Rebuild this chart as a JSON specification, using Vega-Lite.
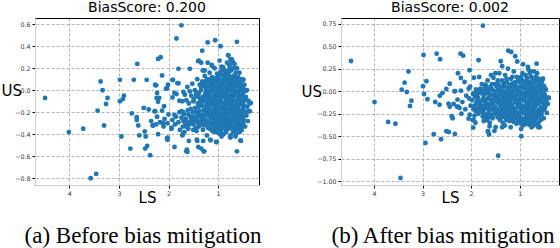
{
"$schema":"https://vega.github.io/schema/vega-lite/v6.json",
"padding":{"left":0,"top":0,"right":0,"bottom":0},
"background":"white",
"datasets":{
"a":[
{"LS":4.49,"US":-0.07},{"LS":3.37,"US":0.08},{"LS":3.33,"US":0.0},{"LS":3.23,"US":-0.07},{"LS":3.26,"US":-0.125},{"LS":3.43,"US":-0.185},{"LS":3.3,"US":-0.32},{"LS":3.72,"US":-0.35},{"LS":4.01,"US":-0.38},{"LS":3.46,"US":-0.76},{"LS":3.57,"US":-0.8},
{"LS":2.98,"US":0.095},{"LS":2.7,"US":0.095},{"LS":2.44,"US":0.095},{"LS":2.63,"US":0.24},{"LS":2.27,"US":0.05},{"LS":2.9,"US":-0.05},{"LS":2.92,"US":-0.08},{"LS":2.98,"US":-0.1},{"LS":2.5,"US":-0.16},{"LS":2.4,"US":-0.175},{"LS":2.28,"US":-0.19},{"LS":2.74,"US":-0.21},{"LS":2.64,"US":-0.245},{"LS":2.64,"US":-0.27},{"LS":2.61,"US":-0.32},{"LS":2.35,"US":-0.28},{"LS":2.32,"US":-0.32},{"LS":2.48,"US":-0.375},{"LS":2.59,"US":-0.41},{"LS":2.46,"US":-0.42},{"LS":2.95,"US":-0.42},{"LS":2.77,"US":-0.53},{"LS":2.43,"US":-0.505},{"LS":2.47,"US":-0.53},{"LS":2.37,"US":-0.59},
{"LS":2.21,"US":0.285},{"LS":2.16,"US":0.3},{"LS":1.84,"US":0.47},{"LS":1.74,"US":0.59},{"LS":2.13,"US":0.135},{"LS":2.26,"US":0.045},{"LS":2.03,"US":0.02},{"LS":1.92,"US":0.095},{"LS":1.82,"US":0.065},{"LS":1.8,"US":0.195},{"LS":1.57,"US":0.195},{"LS":1.7,"US":-0.015},{"LS":1.88,"US":-0.025},{"LS":2.23,"US":-0.025},{"LS":2.24,"US":-0.07},{"LS":2.21,"US":-0.105},{"LS":1.92,"US":-0.065},{"LS":1.78,"US":-0.095},{"LS":2.09,"US":-0.145},{"LS":2.27,"US":-0.19},{"LS":2.13,"US":-0.185},{"LS":1.88,"US":-0.225},{"LS":1.74,"US":-0.19},
{"LS":1.32,"US":0.36},{"LS":1.21,"US":0.435},{"LS":1.06,"US":0.455},{"LS":0.95,"US":0.4},{"LS":0.62,"US":0.44},{"LS":1.4,"US":0.265},{"LS":1.31,"US":0.18},{"LS":1.13,"US":0.23},{"LS":0.79,"US":0.315},{"LS":0.7,"US":0.255},{"LS":0.93,"US":0.215},
{"LS":0.62,"US":-0.555},{"LS":1.29,"US":-0.555},{"LS":1.4,"US":-0.515},{"LS":1.64,"US":-0.555},{"LS":1.88,"US":-0.515},{"LS":0.55,"US":-0.455},{"LS":0.76,"US":-0.425},{"LS":0.93,"US":-0.42},{"LS":1.04,"US":-0.47},{"LS":1.16,"US":-0.45},{"LS":1.43,"US":-0.45},{"LS":1.72,"US":-0.41},{"LS":2.03,"US":-0.44},{"LS":2.21,"US":-0.4},{"LS":2.11,"US":-0.3},{"LS":2.31,"US":-0.32},{"LS":1.94,"US":-0.35},{"LS":0.36,"US":-0.19},{"LS":0.34,"US":-0.115},{"LS":0.43,"US":0.0},{"LS":0.54,"US":0.04},
{"LS":1.39,"US":0.27},{"LS":1.34,"US":0.25},{"LS":1.21,"US":0.25},{"LS":1.27,"US":0.18},{"LS":1.12,"US":0.22},{"LS":0.8,"US":0.32},{"LS":0.75,"US":0.28},{"LS":0.73,"US":0.25},{"LS":0.9,"US":0.21},{"LS":1.91,"US":0.094},{"LS":1.8,"US":0.064},{"LS":2.25,"US":0.045},{"LS":2.01,"US":0.05},{"LS":2.05,"US":0.015},{"LS":2.19,"US":-0.07},{"LS":1.84,"US":-0.034},{"LS":0.49,"US":0.096},{"LS":0.39,"US":-0.095},
{"LS":1.63,"US":-0.54},{"LS":1.62,"US":-0.56},{"LS":1.42,"US":-0.46},{"LS":1.3,"US":-0.46},{"LS":1.34,"US":-0.53},{"LS":1.28,"US":-0.555},{"LS":1.15,"US":-0.455},{"LS":1.03,"US":-0.47},{"LS":0.95,"US":-0.4},{"LS":0.75,"US":-0.43},{"LS":0.54,"US":-0.46},{"LS":1.59,"US":-0.46},{"LS":2.02,"US":-0.43},{"LS":2.02,"US":-0.45},{"LS":1.71,"US":-0.4},{"LS":0.53,"US":-0.33},
{"LS":0.37,"US":-0.12},{"LS":0.39,"US":-0.19},
{"LS":0.42,"US":0.0},{"LS":0.44,"US":-0.06},{"LS":0.41,"US":-0.15},{"LS":0.43,"US":-0.23},{"LS":0.4,"US":-0.28},
{"LS":0.47,"US":0.05},{"LS":0.49,"US":-0.02},{"LS":0.46,"US":-0.09},{"LS":0.48,"US":-0.14},{"LS":0.45,"US":-0.2},{"LS":0.485,"US":-0.27},{"LS":0.455,"US":-0.33},
{"LS":0.52,"US":0.1},{"LS":0.54,"US":0.04},{"LS":0.51,"US":-0.04},{"LS":0.53,"US":-0.1},{"LS":0.5,"US":-0.17},{"LS":0.535,"US":-0.22},{"LS":0.505,"US":-0.29},{"LS":0.525,"US":-0.36},
{"LS":0.57,"US":0.16},{"LS":0.59,"US":0.08},{"LS":0.56,"US":0.01},{"LS":0.58,"US":-0.05},{"LS":0.55,"US":-0.12},{"LS":0.585,"US":-0.18},{"LS":0.555,"US":-0.25},{"LS":0.575,"US":-0.31},{"LS":0.565,"US":-0.38},
{"LS":0.62,"US":0.2},{"LS":0.64,"US":0.12},{"LS":0.61,"US":0.06},{"LS":0.63,"US":-0.01},{"LS":0.6,"US":-0.07},{"LS":0.635,"US":-0.13},{"LS":0.605,"US":-0.2},{"LS":0.625,"US":-0.26},{"LS":0.615,"US":-0.33},{"LS":0.64,"US":-0.4},
{"LS":0.67,"US":0.24},{"LS":0.69,"US":0.13},{"LS":0.66,"US":0.07},{"LS":0.68,"US":0.02},{"LS":0.65,"US":-0.04},{"LS":0.685,"US":-0.1},{"LS":0.655,"US":-0.16},{"LS":0.675,"US":-0.22},{"LS":0.665,"US":-0.28},{"LS":0.69,"US":-0.34},{"LS":0.65,"US":-0.42},
{"LS":0.72,"US":0.28},{"LS":0.74,"US":0.18},{"LS":0.71,"US":0.1},{"LS":0.73,"US":0.03},{"LS":0.7,"US":-0.03},{"LS":0.735,"US":-0.09},{"LS":0.705,"US":-0.15},{"LS":0.725,"US":-0.21},{"LS":0.715,"US":-0.27},{"LS":0.74,"US":-0.32},{"LS":0.7,"US":-0.38},
{"LS":0.77,"US":0.22},{"LS":0.79,"US":0.15},{"LS":0.76,"US":0.08},{"LS":0.78,"US":0.01},{"LS":0.75,"US":-0.05},{"LS":0.785,"US":-0.11},{"LS":0.755,"US":-0.17},{"LS":0.775,"US":-0.23},{"LS":0.765,"US":-0.29},{"LS":0.79,"US":-0.35},{"LS":0.75,"US":-0.41},
{"LS":0.82,"US":0.25},{"LS":0.84,"US":0.12},{"LS":0.81,"US":0.05},{"LS":0.83,"US":-0.02},{"LS":0.8,"US":-0.08},{"LS":0.835,"US":-0.14},{"LS":0.805,"US":-0.2},{"LS":0.825,"US":-0.26},{"LS":0.815,"US":-0.32},{"LS":0.84,"US":-0.38},
{"LS":0.87,"US":0.18},{"LS":0.89,"US":0.1},{"LS":0.86,"US":0.03},{"LS":0.88,"US":-0.03},{"LS":0.85,"US":-0.1},{"LS":0.885,"US":-0.16},{"LS":0.855,"US":-0.22},{"LS":0.875,"US":-0.28},{"LS":0.865,"US":-0.34},{"LS":0.89,"US":-0.4},
{"LS":0.92,"US":0.2},{"LS":0.94,"US":0.14},{"LS":0.91,"US":0.06},{"LS":0.93,"US":0.0},{"LS":0.9,"US":-0.06},{"LS":0.935,"US":-0.12},{"LS":0.905,"US":-0.18},{"LS":0.925,"US":-0.24},{"LS":0.915,"US":-0.3},{"LS":0.94,"US":-0.36},
{"LS":0.97,"US":0.27},{"LS":0.99,"US":0.1},{"LS":0.96,"US":0.04},{"LS":0.98,"US":-0.03},{"LS":0.95,"US":-0.09},{"LS":0.985,"US":-0.15},{"LS":0.955,"US":-0.21},{"LS":0.975,"US":-0.27},{"LS":0.965,"US":-0.33},{"LS":0.99,"US":-0.39},
{"LS":1.02,"US":0.15},{"LS":1.04,"US":0.08},{"LS":1.01,"US":0.01},{"LS":1.03,"US":-0.05},{"LS":1.0,"US":-0.11},{"LS":1.035,"US":-0.17},{"LS":1.005,"US":-0.23},{"LS":1.025,"US":-0.29},{"LS":1.015,"US":-0.35},
{"LS":1.07,"US":0.2},{"LS":1.09,"US":0.05},{"LS":1.06,"US":-0.02},{"LS":1.08,"US":-0.08},{"LS":1.05,"US":-0.14},{"LS":1.085,"US":-0.2},{"LS":1.055,"US":-0.26},{"LS":1.075,"US":-0.32},{"LS":1.065,"US":-0.38},
{"LS":1.12,"US":0.12},{"LS":1.14,"US":0.06},{"LS":1.11,"US":-0.01},{"LS":1.13,"US":-0.07},{"LS":1.1,"US":-0.13},{"LS":1.135,"US":-0.19},{"LS":1.105,"US":-0.25},{"LS":1.125,"US":-0.31},{"LS":1.115,"US":-0.37},
{"LS":1.17,"US":0.16},{"LS":1.19,"US":0.09},{"LS":1.16,"US":0.03},{"LS":1.18,"US":-0.04},{"LS":1.15,"US":-0.1},{"LS":1.185,"US":-0.16},{"LS":1.155,"US":-0.22},{"LS":1.175,"US":-0.28},{"LS":1.165,"US":-0.35},
{"LS":1.22,"US":0.1},{"LS":1.24,"US":0.0},{"LS":1.21,"US":-0.07},{"LS":1.23,"US":-0.13},{"LS":1.2,"US":-0.2},{"LS":1.235,"US":-0.27},{"LS":1.205,"US":-0.34},{"LS":1.225,"US":-0.41},
{"LS":1.27,"US":0.13},{"LS":1.29,"US":0.06},{"LS":1.26,"US":-0.03},{"LS":1.28,"US":-0.1},{"LS":1.25,"US":-0.18},{"LS":1.285,"US":-0.25},{"LS":1.255,"US":-0.31},
{"LS":1.32,"US":0.08},{"LS":1.34,"US":0.02},{"LS":1.31,"US":-0.06},{"LS":1.33,"US":-0.14},{"LS":1.3,"US":-0.22},{"LS":1.335,"US":-0.29},{"LS":1.305,"US":-0.36},
{"LS":1.37,"US":0.05},{"LS":1.39,"US":-0.03},{"LS":1.36,"US":-0.09},{"LS":1.38,"US":-0.19},{"LS":1.35,"US":-0.26},{"LS":1.385,"US":-0.33},
{"LS":1.42,"US":0.1},{"LS":1.44,"US":-0.02},{"LS":1.41,"US":-0.12},{"LS":1.43,"US":-0.24},{"LS":1.4,"US":-0.3},{"LS":1.435,"US":-0.37},
{"LS":1.47,"US":0.0},{"LS":1.49,"US":-0.08},{"LS":1.46,"US":-0.16},{"LS":1.48,"US":-0.28},{"LS":1.45,"US":-0.34},
{"LS":1.52,"US":0.06},{"LS":1.54,"US":-0.05},{"LS":1.51,"US":-0.2},{"LS":1.53,"US":-0.27},{"LS":1.5,"US":-0.36},
{"LS":1.57,"US":-0.01},{"LS":1.59,"US":-0.12},{"LS":1.56,"US":-0.24},{"LS":1.58,"US":-0.31},
{"LS":1.62,"US":0.03},{"LS":1.64,"US":-0.09},{"LS":1.61,"US":-0.18},{"LS":1.63,"US":-0.29},{"LS":1.6,"US":-0.35},
{"LS":1.67,"US":-0.04},{"LS":1.69,"US":-0.22},{"LS":1.66,"US":-0.3},{"LS":1.68,"US":-0.38},
{"LS":1.72,"US":-0.1},{"LS":1.74,"US":-0.25},{"LS":1.71,"US":-0.33},
{"LS":1.78,"US":-0.2},{"LS":1.8,"US":-0.29},{"LS":1.77,"US":-0.36},
{"LS":1.85,"US":-0.24},{"LS":1.87,"US":-0.31},{"LS":1.92,"US":-0.27},{"LS":1.94,"US":-0.34},{"LS":2.0,"US":-0.22},{"LS":2.02,"US":-0.3},{"LS":2.08,"US":-0.26},{"LS":2.1,"US":-0.33},{"LS":2.17,"US":-0.29},{"LS":2.25,"US":-0.31},{"LS":2.23,"US":-0.24},
{"LS":0.495,"US":0.02},{"LS":0.495,"US":-0.06},{"LS":0.495,"US":-0.12},{"LS":0.495,"US":-0.17},{"LS":0.495,"US":-0.24},{"LS":0.495,"US":-0.3},
{"LS":0.545,"US":0.07},{"LS":0.545,"US":0.0},{"LS":0.545,"US":-0.07},{"LS":0.545,"US":-0.13},{"LS":0.545,"US":-0.2},{"LS":0.545,"US":-0.26},{"LS":0.545,"US":-0.32},
{"LS":0.595,"US":0.12},{"LS":0.595,"US":0.04},{"LS":0.595,"US":-0.02},{"LS":0.595,"US":-0.09},{"LS":0.595,"US":-0.15},{"LS":0.595,"US":-0.22},{"LS":0.595,"US":-0.28},{"LS":0.595,"US":-0.35},
{"LS":0.645,"US":0.16},{"LS":0.645,"US":0.09},{"LS":0.645,"US":0.03},{"LS":0.645,"US":-0.04},{"LS":0.645,"US":-0.1},{"LS":0.645,"US":-0.17},{"LS":0.645,"US":-0.23},{"LS":0.645,"US":-0.3},{"LS":0.645,"US":-0.36},
{"LS":0.695,"US":0.2},{"LS":0.695,"US":0.06},{"LS":0.695,"US":0.0},{"LS":0.695,"US":-0.06},{"LS":0.695,"US":-0.12},{"LS":0.695,"US":-0.19},{"LS":0.695,"US":-0.25},{"LS":0.695,"US":-0.3},{"LS":0.695,"US":-0.36},
{"LS":0.745,"US":0.12},{"LS":0.745,"US":0.05},{"LS":0.745,"US":-0.01},{"LS":0.745,"US":-0.08},{"LS":0.745,"US":-0.14},{"LS":0.745,"US":-0.2},{"LS":0.745,"US":-0.26},{"LS":0.745,"US":-0.32},
{"LS":0.795,"US":0.18},{"LS":0.795,"US":0.1},{"LS":0.795,"US":0.03},{"LS":0.795,"US":-0.05},{"LS":0.795,"US":-0.11},{"LS":0.795,"US":-0.17},{"LS":0.795,"US":-0.23},{"LS":0.795,"US":-0.29},{"LS":0.795,"US":-0.35},
{"LS":0.845,"US":0.15},{"LS":0.845,"US":0.08},{"LS":0.845,"US":0.0},{"LS":0.845,"US":-0.06},{"LS":0.845,"US":-0.12},{"LS":0.845,"US":-0.18},{"LS":0.845,"US":-0.24},{"LS":0.845,"US":-0.3},{"LS":0.845,"US":-0.36},
{"LS":0.895,"US":0.14},{"LS":0.895,"US":0.07},{"LS":0.895,"US":0.01},{"LS":0.895,"US":-0.05},{"LS":0.895,"US":-0.12},{"LS":0.895,"US":-0.19},{"LS":0.895,"US":-0.25},{"LS":0.895,"US":-0.31},
{"LS":0.945,"US":0.17},{"LS":0.945,"US":0.09},{"LS":0.945,"US":0.02},{"LS":0.945,"US":-0.04},{"LS":0.945,"US":-0.1},{"LS":0.945,"US":-0.16},{"LS":0.945,"US":-0.22},{"LS":0.945,"US":-0.28},{"LS":0.945,"US":-0.34},
{"LS":0.995,"US":0.12},{"LS":0.995,"US":0.06},{"LS":0.995,"US":-0.01},{"LS":0.995,"US":-0.07},{"LS":0.995,"US":-0.13},{"LS":0.995,"US":-0.19},{"LS":0.995,"US":-0.25},{"LS":0.995,"US":-0.31},
{"LS":1.045,"US":0.11},{"LS":1.045,"US":0.03},{"LS":1.045,"US":-0.04},{"LS":1.045,"US":-0.1},{"LS":1.045,"US":-0.16},{"LS":1.045,"US":-0.22},{"LS":1.045,"US":-0.28},{"LS":1.045,"US":-0.34},
{"LS":1.095,"US":0.08},{"LS":1.095,"US":0.02},{"LS":1.095,"US":-0.05},{"LS":1.095,"US":-0.11},{"LS":1.095,"US":-0.17},{"LS":1.095,"US":-0.23},{"LS":1.095,"US":-0.29},{"LS":1.095,"US":-0.35},
{"LS":1.145,"US":0.1},{"LS":1.145,"US":0.0},{"LS":1.145,"US":-0.07},{"LS":1.145,"US":-0.13},{"LS":1.145,"US":-0.19},{"LS":1.145,"US":-0.25},{"LS":1.145,"US":-0.31},
{"LS":1.195,"US":0.05},{"LS":1.195,"US":-0.01},{"LS":1.195,"US":-0.1},{"LS":1.195,"US":-0.16},{"LS":1.195,"US":-0.23},{"LS":1.195,"US":-0.3},
{"LS":1.245,"US":0.08},{"LS":1.245,"US":0.03},{"LS":1.245,"US":-0.05},{"LS":1.245,"US":-0.15},{"LS":1.245,"US":-0.22},{"LS":1.245,"US":-0.28},
{"LS":1.295,"US":0.04},{"LS":1.295,"US":-0.08},{"LS":1.295,"US":-0.18},{"LS":1.295,"US":-0.26},{"LS":1.295,"US":-0.32},
{"LS":1.345,"US":0.0},{"LS":1.345,"US":-0.11},{"LS":1.345,"US":-0.23},{"LS":1.345,"US":-0.3},
{"LS":1.395,"US":-0.06},{"LS":1.395,"US":-0.15},{"LS":1.395,"US":-0.22},{"LS":1.395,"US":-0.29},
{"LS":1.445,"US":-0.05},{"LS":1.445,"US":-0.2},{"LS":1.445,"US":-0.27},
{"LS":1.5,"US":-0.1},{"LS":1.5,"US":-0.24},{"LS":1.5,"US":-0.31},
{"LS":1.55,"US":-0.17},{"LS":1.55,"US":-0.28},{"LS":1.6,"US":-0.22},{"LS":1.6,"US":-0.3},{"LS":1.65,"US":-0.26},{"LS":1.65,"US":-0.33},{"LS":1.7,"US":-0.2},{"LS":1.7,"US":-0.28}
],
"b":[
{"LS":4.475,"US":0.337},{"LS":3.99,"US":-0.12},{"LS":3.71,"US":-0.34},{"LS":3.56,"US":-0.36},{"LS":3.455,"US":-0.963},{"LS":3.29,"US":0.22},{"LS":3.37,"US":0.096},{"LS":3.43,"US":0.018},{"LS":3.325,"US":-0.008},{"LS":3.23,"US":-0.104},{"LS":3.26,"US":-0.163},
{"LS":2.98,"US":0.403},{"LS":2.71,"US":0.418},{"LS":2.64,"US":0.356},{"LS":2.92,"US":0.111},{"LS":2.99,"US":0.056},{"LS":2.97,"US":-0.03},{"LS":2.9,"US":-0.089},{"LS":2.74,"US":-0.119},{"LS":2.65,"US":-0.149},{"LS":2.645,"US":-0.049},{"LS":2.59,"US":-0.019},{"LS":2.51,"US":0.026},{"LS":2.44,"US":0.084},{"LS":2.335,"US":0.0},{"LS":2.27,"US":0.2},{"LS":2.28,"US":-0.093},{"LS":2.465,"US":-0.138},{"LS":2.36,"US":-0.141},{"LS":2.44,"US":-0.171},{"LS":2.29,"US":-0.171},{"LS":2.4,"US":-0.278},{"LS":2.38,"US":-0.3},{"LS":2.51,"US":-0.444},{"LS":2.46,"US":-0.452},{"LS":2.335,"US":-0.474},{"LS":2.77,"US":-0.478},{"LS":2.94,"US":-0.574},{"LS":2.62,"US":-0.533},
{"LS":1.757,"US":0.729},{"LS":2.218,"US":0.418},{"LS":2.164,"US":0.396},{"LS":1.846,"US":0.344},{"LS":2.211,"US":0.148},{"LS":2.135,"US":0.103},{"LS":2.032,"US":0.233},{"LS":1.943,"US":0.151},{"LS":1.834,"US":0.159},{"LS":1.235,"US":0.451},{"LS":1.173,"US":0.437},{"LS":1.091,"US":0.389},{"LS":0.65,"US":0.307},{"LS":1.442,"US":-0.716},{"LS":0.967,"US":-0.5},{"LS":1.654,"US":-0.444},{"LS":1.957,"US":-0.404},{"LS":2.052,"US":-0.304},{"LS":0.616,"US":-0.4},{"LS":0.402,"US":-0.074},{"LS":0.513,"US":0.062},{"LS":0.526,"US":0.137},
{"LS":1.05,"US":0.33},{"LS":1.39,"US":0.333},{"LS":1.36,"US":0.278},{"LS":1.71,"US":0.073},{"LS":1.59,"US":0.18},{"LS":1.5,"US":0.2},{"LS":0.93,"US":0.3},{"LS":0.83,"US":0.27},{"LS":0.78,"US":0.22},{"LS":0.53,"US":0.13},{"LS":0.5,"US":0.056},{"LS":2.34,"US":0.0},{"LS":2.21,"US":0.007},{"LS":2.05,"US":0.03},{"LS":1.86,"US":0.007},{"LS":1.69,"US":-0.02},{"LS":1.65,"US":-0.45},{"LS":1.63,"US":-0.48},{"LS":1.52,"US":-0.44},{"LS":2.27,"US":-0.17},{"LS":2.24,"US":-0.185},{"LS":1.91,"US":-0.35},{"LS":1.95,"US":-0.315},{"LS":1.74,"US":-0.33},{"LS":1.62,"US":-0.39},{"LS":1.36,"US":-0.4},{"LS":0.97,"US":-0.42},{"LS":0.73,"US":-0.35},{"LS":0.71,"US":-0.38},{"LS":0.9,"US":-0.37},{"LS":1.07,"US":-0.3},{"LS":1.03,"US":-0.33},
{"LS":0.4,"US":-0.07},{"LS":0.42,"US":-0.14},
{"LS":0.46,"US":0.02},{"LS":0.48,"US":-0.04},{"LS":0.45,"US":-0.1},{"LS":0.47,"US":-0.17},{"LS":0.44,"US":-0.24},
{"LS":0.52,"US":0.14},{"LS":0.54,"US":0.06},{"LS":0.51,"US":-0.01},{"LS":0.53,"US":-0.08},{"LS":0.5,"US":-0.15},{"LS":0.535,"US":-0.22},{"LS":0.505,"US":-0.3},
{"LS":0.58,"US":0.1},{"LS":0.6,"US":0.03},{"LS":0.57,"US":-0.04},{"LS":0.59,"US":-0.11},{"LS":0.56,"US":-0.18},{"LS":0.595,"US":-0.25},{"LS":0.565,"US":-0.32},{"LS":0.585,"US":-0.4},
{"LS":0.64,"US":0.2},{"LS":0.66,"US":0.13},{"LS":0.63,"US":0.06},{"LS":0.65,"US":-0.01},{"LS":0.62,"US":-0.08},{"LS":0.655,"US":-0.15},{"LS":0.625,"US":-0.22},{"LS":0.645,"US":-0.29},{"LS":0.635,"US":-0.36},
{"LS":0.7,"US":0.22},{"LS":0.72,"US":0.08},{"LS":0.69,"US":0.01},{"LS":0.71,"US":-0.06},{"LS":0.68,"US":-0.13},{"LS":0.715,"US":-0.2},{"LS":0.685,"US":-0.27},{"LS":0.705,"US":-0.34},
{"LS":0.76,"US":0.16},{"LS":0.78,"US":0.1},{"LS":0.75,"US":0.03},{"LS":0.77,"US":-0.04},{"LS":0.74,"US":-0.11},{"LS":0.775,"US":-0.18},{"LS":0.745,"US":-0.25},{"LS":0.765,"US":-0.32},{"LS":0.755,"US":-0.4},
{"LS":0.82,"US":0.24},{"LS":0.84,"US":0.12},{"LS":0.81,"US":0.05},{"LS":0.83,"US":-0.02},{"LS":0.8,"US":-0.09},{"LS":0.835,"US":-0.16},{"LS":0.805,"US":-0.23},{"LS":0.825,"US":-0.3},{"LS":0.815,"US":-0.37},
{"LS":0.88,"US":0.18},{"LS":0.9,"US":0.07},{"LS":0.87,"US":0.0},{"LS":0.89,"US":-0.07},{"LS":0.86,"US":-0.14},{"LS":0.895,"US":-0.21},{"LS":0.865,"US":-0.28},{"LS":0.885,"US":-0.35},
{"LS":0.94,"US":0.2},{"LS":0.96,"US":0.13},{"LS":0.93,"US":0.04},{"LS":0.95,"US":-0.03},{"LS":0.92,"US":-0.1},{"LS":0.955,"US":-0.17},{"LS":0.925,"US":-0.24},{"LS":0.945,"US":-0.31},{"LS":0.935,"US":-0.38},
{"LS":1.0,"US":0.1},{"LS":1.02,"US":0.02},{"LS":0.99,"US":-0.05},{"LS":1.01,"US":-0.12},{"LS":0.98,"US":-0.19},{"LS":1.015,"US":-0.26},{"LS":0.985,"US":-0.33},
{"LS":1.06,"US":0.16},{"LS":1.08,"US":0.06},{"LS":1.05,"US":-0.01},{"LS":1.07,"US":-0.08},{"LS":1.04,"US":-0.15},{"LS":1.075,"US":-0.22},{"LS":1.045,"US":-0.29},{"LS":1.065,"US":-0.36},
{"LS":1.12,"US":0.22},{"LS":1.14,"US":0.09},{"LS":1.11,"US":0.02},{"LS":1.13,"US":-0.05},{"LS":1.1,"US":-0.12},{"LS":1.135,"US":-0.19},{"LS":1.105,"US":-0.26},{"LS":1.125,"US":-0.34},
{"LS":1.18,"US":0.14},{"LS":1.2,"US":0.04},{"LS":1.17,"US":-0.03},{"LS":1.19,"US":-0.1},{"LS":1.16,"US":-0.17},{"LS":1.195,"US":-0.24},{"LS":1.165,"US":-0.31},{"LS":1.185,"US":-0.4},
{"LS":1.24,"US":0.25},{"LS":1.26,"US":0.1},{"LS":1.23,"US":0.0},{"LS":1.25,"US":-0.07},{"LS":1.22,"US":-0.14},{"LS":1.255,"US":-0.21},{"LS":1.225,"US":-0.28},
{"LS":1.3,"US":0.18},{"LS":1.32,"US":0.06},{"LS":1.29,"US":-0.02},{"LS":1.31,"US":-0.09},{"LS":1.28,"US":-0.16},{"LS":1.315,"US":-0.23},{"LS":1.285,"US":-0.3},{"LS":1.305,"US":-0.38},
{"LS":1.36,"US":0.12},{"LS":1.38,"US":0.03},{"LS":1.35,"US":-0.05},{"LS":1.37,"US":-0.12},{"LS":1.34,"US":-0.19},{"LS":1.375,"US":-0.26},{"LS":1.345,"US":-0.35},
{"LS":1.42,"US":0.2},{"LS":1.44,"US":0.08},{"LS":1.41,"US":-0.01},{"LS":1.43,"US":-0.08},{"LS":1.4,"US":-0.16},{"LS":1.435,"US":-0.24},{"LS":1.405,"US":-0.32},
{"LS":1.48,"US":0.06},{"LS":1.5,"US":-0.03},{"LS":1.47,"US":-0.11},{"LS":1.49,"US":-0.19},{"LS":1.46,"US":-0.27},{"LS":1.495,"US":-0.4},
{"LS":1.54,"US":0.15},{"LS":1.56,"US":0.02},{"LS":1.53,"US":-0.06},{"LS":1.55,"US":-0.14},{"LS":1.52,"US":-0.22},{"LS":1.555,"US":-0.3},
{"LS":1.6,"US":0.05},{"LS":1.62,"US":-0.02},{"LS":1.59,"US":-0.1},{"LS":1.61,"US":-0.18},{"LS":1.58,"US":-0.26},{"LS":1.615,"US":-0.35},
{"LS":1.66,"US":0.12},{"LS":1.68,"US":0.0},{"LS":1.65,"US":-0.08},{"LS":1.67,"US":-0.15},{"LS":1.64,"US":-0.24},{"LS":1.675,"US":-0.32},
{"LS":1.72,"US":0.04},{"LS":1.74,"US":-0.04},{"LS":1.71,"US":-0.12},{"LS":1.73,"US":-0.2},{"LS":1.7,"US":-0.3},
{"LS":1.78,"US":0.08},{"LS":1.8,"US":-0.02},{"LS":1.77,"US":-0.1},{"LS":1.79,"US":-0.18},{"LS":1.76,"US":-0.28},
{"LS":1.84,"US":0.0},{"LS":1.86,"US":-0.07},{"LS":1.83,"US":-0.15},{"LS":1.85,"US":-0.25},
{"LS":1.9,"US":0.02},{"LS":1.92,"US":-0.06},{"LS":1.89,"US":-0.13},{"LS":1.91,"US":-0.22},
{"LS":1.96,"US":-0.03},{"LS":1.98,"US":-0.1},{"LS":1.95,"US":-0.2},{"LS":1.97,"US":-0.32},
{"LS":2.02,"US":0.05},{"LS":2.04,"US":-0.08},{"LS":2.01,"US":-0.16},{"LS":2.03,"US":-0.26},
{"LS":2.1,"US":-0.05},{"LS":2.12,"US":-0.2},{"LS":2.18,"US":-0.12},{"LS":2.2,"US":-0.25},
{"LS":0.49,"US":0.04},{"LS":0.49,"US":-0.06},{"LS":0.49,"US":-0.13},{"LS":0.49,"US":-0.2},
{"LS":0.55,"US":0.1},{"LS":0.55,"US":0.02},{"LS":0.55,"US":-0.05},{"LS":0.55,"US":-0.12},{"LS":0.55,"US":-0.19},{"LS":0.55,"US":-0.26},
{"LS":0.61,"US":0.14},{"LS":0.61,"US":0.06},{"LS":0.61,"US":0.0},{"LS":0.61,"US":-0.07},{"LS":0.61,"US":-0.14},{"LS":0.61,"US":-0.21},{"LS":0.61,"US":-0.28},{"LS":0.61,"US":-0.35},
{"LS":0.67,"US":0.16},{"LS":0.67,"US":0.1},{"LS":0.67,"US":0.03},{"LS":0.67,"US":-0.04},{"LS":0.67,"US":-0.1},{"LS":0.67,"US":-0.17},{"LS":0.67,"US":-0.24},{"LS":0.67,"US":-0.31},
{"LS":0.73,"US":0.13},{"LS":0.73,"US":0.05},{"LS":0.73,"US":-0.02},{"LS":0.73,"US":-0.09},{"LS":0.73,"US":-0.16},{"LS":0.73,"US":-0.23},{"LS":0.73,"US":-0.3},{"LS":0.73,"US":-0.37},
{"LS":0.79,"US":0.2},{"LS":0.79,"US":0.07},{"LS":0.79,"US":0.0},{"LS":0.79,"US":-0.07},{"LS":0.79,"US":-0.14},{"LS":0.79,"US":-0.21},{"LS":0.79,"US":-0.28},{"LS":0.79,"US":-0.34},
{"LS":0.85,"US":0.15},{"LS":0.85,"US":0.09},{"LS":0.85,"US":0.02},{"LS":0.85,"US":-0.05},{"LS":0.85,"US":-0.12},{"LS":0.85,"US":-0.19},{"LS":0.85,"US":-0.26},{"LS":0.85,"US":-0.32},
{"LS":0.91,"US":0.11},{"LS":0.91,"US":0.04},{"LS":0.91,"US":-0.03},{"LS":0.91,"US":-0.1},{"LS":0.91,"US":-0.17},{"LS":0.91,"US":-0.24},{"LS":0.91,"US":-0.31},
{"LS":0.97,"US":0.16},{"LS":0.97,"US":0.06},{"LS":0.97,"US":-0.01},{"LS":0.97,"US":-0.08},{"LS":0.97,"US":-0.15},{"LS":0.97,"US":-0.22},{"LS":0.97,"US":-0.29},{"LS":0.97,"US":-0.36},
{"LS":1.03,"US":0.12},{"LS":1.03,"US":0.04},{"LS":1.03,"US":-0.03},{"LS":1.03,"US":-0.1},{"LS":1.03,"US":-0.17},{"LS":1.03,"US":-0.24},{"LS":1.03,"US":-0.31},
{"LS":1.09,"US":0.1},{"LS":1.09,"US":0.02},{"LS":1.09,"US":-0.05},{"LS":1.09,"US":-0.12},{"LS":1.09,"US":-0.19},{"LS":1.09,"US":-0.26},
{"LS":1.15,"US":0.16},{"LS":1.15,"US":0.06},{"LS":1.15,"US":-0.01},{"LS":1.15,"US":-0.08},{"LS":1.15,"US":-0.15},{"LS":1.15,"US":-0.22},{"LS":1.15,"US":-0.29},
{"LS":1.21,"US":0.07},{"LS":1.21,"US":0.03},{"LS":1.21,"US":-0.05},{"LS":1.21,"US":-0.12},{"LS":1.21,"US":-0.19},{"LS":1.21,"US":-0.26},{"LS":1.21,"US":-0.33},
{"LS":1.27,"US":0.14},{"LS":1.27,"US":0.04},{"LS":1.27,"US":-0.04},{"LS":1.27,"US":-0.11},{"LS":1.27,"US":-0.18},{"LS":1.27,"US":-0.25},{"LS":1.27,"US":-0.32},
{"LS":1.33,"US":0.09},{"LS":1.33,"US":0.0},{"LS":1.33,"US":-0.07},{"LS":1.33,"US":-0.14},{"LS":1.33,"US":-0.21},{"LS":1.33,"US":-0.28},
{"LS":1.39,"US":0.05},{"LS":1.39,"US":-0.03},{"LS":1.39,"US":-0.1},{"LS":1.39,"US":-0.17},{"LS":1.39,"US":-0.22},{"LS":1.39,"US":-0.3},
{"LS":1.45,"US":0.12},{"LS":1.45,"US":0.02},{"LS":1.45,"US":-0.05},{"LS":1.45,"US":-0.13},{"LS":1.45,"US":-0.21},{"LS":1.45,"US":-0.29},
{"LS":1.51,"US":0.08},{"LS":1.51,"US":0.0},{"LS":1.51,"US":-0.08},{"LS":1.51,"US":-0.17},{"LS":1.51,"US":-0.25},
{"LS":1.57,"US":0.08},{"LS":1.57,"US":-0.04},{"LS":1.57,"US":-0.12},{"LS":1.57,"US":-0.2},{"LS":1.57,"US":-0.27},
{"LS":1.63,"US":0.02},{"LS":1.63,"US":-0.06},{"LS":1.63,"US":-0.14},{"LS":1.63,"US":-0.21},{"LS":1.63,"US":-0.29},
{"LS":1.69,"US":0.06},{"LS":1.69,"US":-0.09},{"LS":1.69,"US":-0.18},{"LS":1.69,"US":-0.26},
{"LS":1.75,"US":0.0},{"LS":1.75,"US":-0.08},{"LS":1.75,"US":-0.16},{"LS":1.75,"US":-0.24},
{"LS":1.81,"US":0.03},{"LS":1.81,"US":-0.12},{"LS":1.81,"US":-0.22},
{"LS":1.87,"US":-0.03},{"LS":1.87,"US":-0.1},{"LS":1.87,"US":-0.19},
{"LS":1.93,"US":-0.02},{"LS":1.93,"US":-0.16},{"LS":1.93,"US":-0.27}
]
},
"hconcat":[
{"title":{"text":"(a) Before bias mitigation","orient":"bottom","anchor":"middle","frame":"bounds","dx":13,"font":"Liberation Serif","fontSize":23,"fontWeight":"normal","color":"#000","offset":19},
 "vconcat":[{
  "width":224,"height":167,
  "title":{"text":"BiasScore: 0.200","anchor":"middle","frame":"group","font":"DejaVu Sans","fontSize":14,"fontWeight":"normal","color":"#000","offset":3},
  "data":{"name":"a"},
  "mark":{"type":"circle","size":24,"color":"#1f77b4","opacity":1},
  "encoding":{
   "x":{"field":"LS","type":"quantitative","scale":{"domain":[0.175,4.693],"reverse":true,"nice":false,"zero":false},"axis":{"values":[1,2,3,4],"format":"d","title":"LS","titleY":17}},
   "y":{"field":"US","type":"quantitative","scale":{"domain":[-0.861,0.657],"nice":false,"zero":false},"axis":{"values":[-0.8,-0.6,-0.4,-0.2,0,0.2,0.4,0.6],"format":".1f","title":"US","titleX":-34,"titleY":72}}
  }
 }]},
{"title":{"text":"(b) After bias mitigation","orient":"bottom","anchor":"middle","frame":"bounds","dx":13,"font":"Liberation Serif","fontSize":23,"fontWeight":"normal","color":"#000","offset":19},
 "vconcat":[{
  "width":218,"height":167,
  "title":{"text":"BiasScore: 0.002","anchor":"middle","frame":"group","font":"DejaVu Sans","fontSize":14,"fontWeight":"normal","color":"#000","offset":3},
  "data":{"name":"b"},
  "mark":{"type":"circle","size":24,"color":"#1f77b4","opacity":1},
  "encoding":{
   "x":{"field":"LS","type":"quantitative","scale":{"domain":[0.189,4.681],"reverse":true,"nice":false,"zero":false},"axis":{"values":[1,2,3,4],"format":"d","title":"LS","titleY":17}},
   "y":{"field":"US","type":"quantitative","scale":{"domain":[-1.041,0.814],"nice":false,"zero":false},"axis":{"values":[-1,-0.75,-0.5,-0.25,0,0.25,0.5,0.75],"format":".2f","title":"US","titleX":-40,"titleY":73}}
  }
 }]}
],
"spacing":38,
"config":{
 "view":{"stroke":"#000","strokeWidth":1},
 "axis":{"grid":true,"gridColor":"#a0a0a0","gridDash":[3,2],"gridWidth":0.8,"domainColor":"#d0d0d0","domainWidth":1.2,"tickColor":"#000","tickSize":3,"labelFont":"DejaVu Sans","labelFontSize":6.3,"labelColor":"#333","labelPadding":2,"titleFont":"DejaVu Sans","titleFontSize":15,"titleFontWeight":"normal","titleColor":"#000"},
 "axisY":{"titleAngle":0,"titleAlign":"left","titleBaseline":"middle"},
 "axisX":{"titleBaseline":"alphabetic"},
 "title":{"font":"DejaVu Sans","fontSize":14,"fontWeight":"normal","color":"#000","offset":3}
}
}
